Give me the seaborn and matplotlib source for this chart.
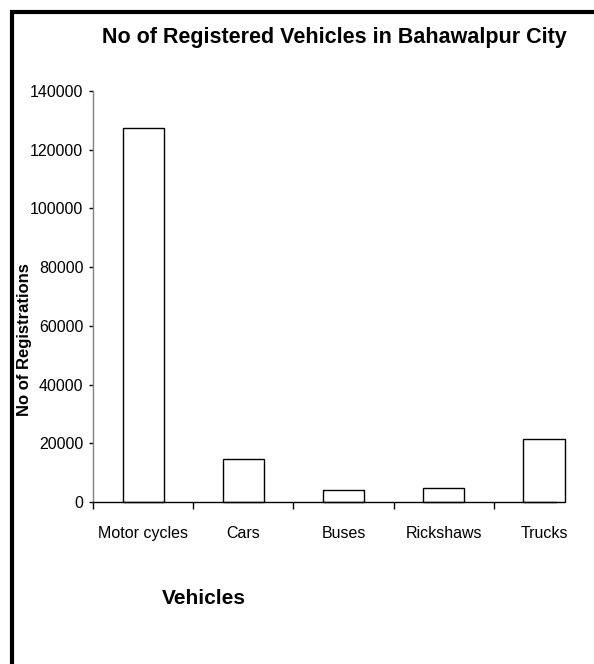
import matplotlib
matplotlib.use("Agg")
import pandas as pd
import seaborn as sns
import matplotlib.pyplot as plt
from matplotlib.patches import Rectangle

vehicles = ["Motor cycles", "Cars", "Buses", "Rickshaws", "Trucks"]
registrations = [127500, 14700, 4000, 4900, 21300]
y_ticks = [0, 20000, 40000, 60000, 80000, 100000, 120000, 140000]
title = "No of Registered Vehicles in Bahawalpur City"

df = pd.DataFrame({"vehicle": vehicles, "count": registrations})

sns.set_style("white")
plt.rcParams["font.family"] = ["Liberation Sans", "DejaVu Sans"]
plt.rcParams["text.color"] = "black"
plt.rcParams["axes.labelcolor"] = "black"
plt.rcParams["xtick.color"] = "black"
plt.rcParams["ytick.color"] = "black"

fig = plt.figure(figsize=(5.94, 6.64), dpi=100)
ax = fig.add_axes([93 / 594, 1 - 502 / 664, 463 / 594, 411 / 664])

sns.barplot(df, x="vehicle", y="count", color="white", edgecolor="black",
            linewidth=1, width=0.41, saturation=1, ax=ax)
for p in ax.patches:
    p.set_clip_on(False)

ax.set_xlim(-0.5, 4.12)
ax.set_ylim(0, 140000)
ax.set_yticks(y_ticks)
ax.set_yticklabels([str(v) for v in y_ticks])
ax.set_xticks([i - 0.5 for i in range(len(vehicles))], minor=True)

ax.spines["top"].set_visible(False)
ax.spines["right"].set_visible(False)
ax.spines["left"].set_color("#808080")
ax.spines["bottom"].set_color("black")
ax.spines["left"].set_linewidth(1)
ax.spines["bottom"].set_linewidth(1)

ax.tick_params(axis="y", left=True, length=3, width=1, color="black",
               labelsize=11.5, pad=4, labelcolor="black")
ax.tick_params(axis="x", which="major", bottom=False, length=0, pad=17,
               labelsize=11.5, labelcolor="black")
ax.tick_params(axis="x", which="minor", bottom=True, length=5, width=1,
               color="black")

ax.set_ylabel("No of Registrations", fontsize=12, fontweight="bold",
              va="center", color="black")
ax.yaxis.set_label_coords(-68 / 463, (502 - 340) / 411)
ax.set_xlabel("Vehicles", fontsize=15, fontweight="bold", va="center",
              color="black")
ax.xaxis.set_label_coords((204 - 93) / 463, (502 - 599) / 411)

fig.suptitle(title, x=334 / 594, y=1 - 38 / 664, va="center",
             fontsize=15.5, fontweight="bold", color="black")

fig.patches.append(Rectangle((12 / 594, -0.1), 1.0, 1.1 - 12 / 664,
                             transform=fig.transFigure, fill=False,
                             edgecolor="black", linewidth=3))

fig.savefig("out.png", dpi=100)
